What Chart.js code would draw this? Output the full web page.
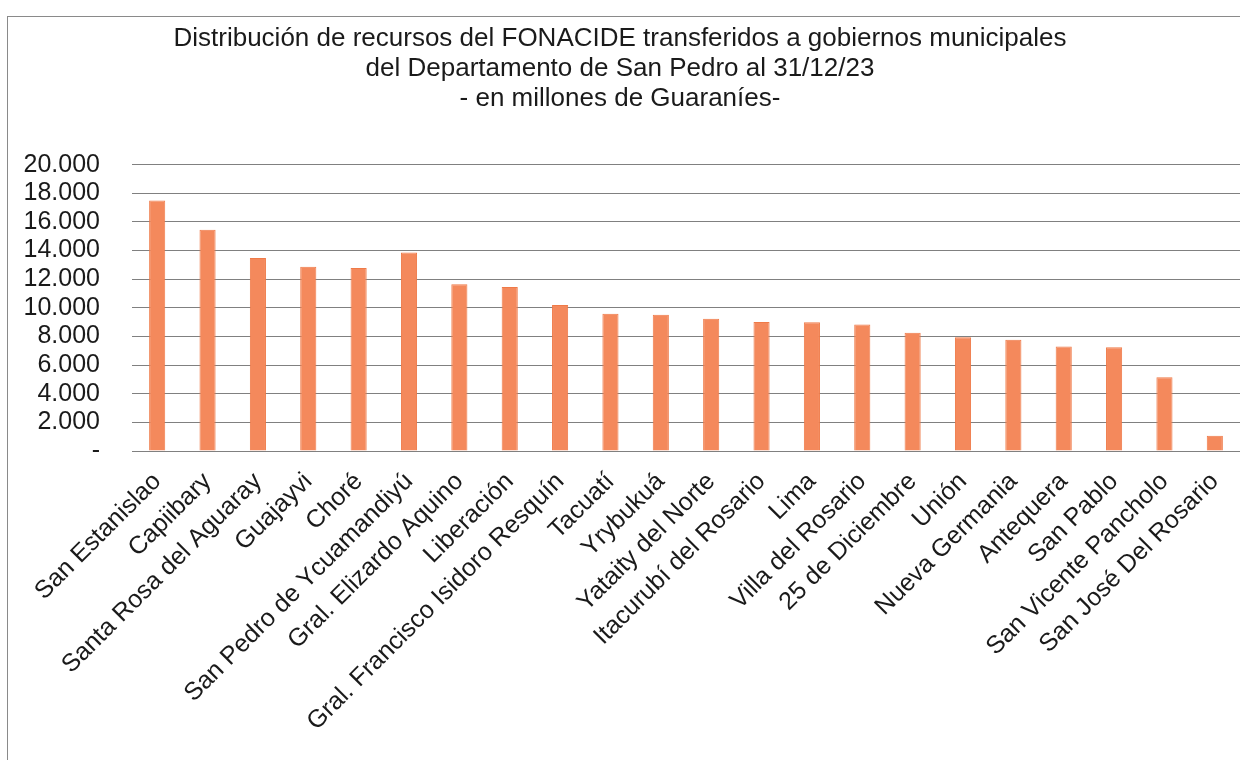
<!DOCTYPE html>
<html>
<head>
<meta charset="utf-8">
<script src="https://cdn.jsdelivr.net/npm/chart.js@4"></script>
<style>
  html, body { margin: 0; padding: 0; background: #fff; }
  #wrap { position: relative; width: 1240px; height: 760px; overflow: hidden; }
  #frame { position: absolute; left: 7px; top: 16px; width: 1300px; height: 800px; border: 1px solid #8a8a8a; }
  #c { position: absolute; left: 0; top: 0; }
</style>
</head>
<body>
<div id="wrap">
  <div id="frame"></div>
  <canvas id="c" width="1240" height="760"></canvas>
</div>
<script>
const titleLines = [
  'Distribución de recursos del FONACIDE transferidos a gobiernos municipales',
  'del Departamento de San Pedro al 31/12/23',
  '- en millones de Guaraníes-'
];
const categories = [
  'San Estanislao', 'Capiibary', 'Santa Rosa del Aguaray', 'Guajayvi', 'Choré',
  'San Pedro de Ycuamandiyú', 'Gral. Elizardo Aquino', 'Liberación',
  'Gral. Francisco Isidoro Resquín', 'Tacuatí', 'Yrybukuá', 'Yataity del Norte',
  'Itacurubí del Rosario', 'Lima', 'Villa del Rosario', '25 de Diciembre', 'Unión',
  'Nueva Germania', 'Antequera', 'San Pablo', 'San Vicente Pancholo', 'San José Del Rosario'
];
const values = [
  17500, 15450, 13480, 12870, 12790,
  13860, 11650, 11450,
  10200, 9580, 9510, 9240,
  9010, 8990, 8840, 8260, 7950,
  7780, 7300, 7250, 5150, 1060
];
const yTicks = [0, 2000, 4000, 6000, 8000, 10000, 12000, 14000, 16000, 18000, 20000];

function fmt(v) {
  if (v === 0) return '-';
  return String(v).replace(/\B(?=(\d{3})+(?!\d))/g, '.');
}

const FONT = '"Liberation Sans", Arial, sans-serif';

new Chart(document.getElementById('c'), {
  type: 'bar',
  data: {
    labels: categories,
    datasets: [{
      data: values,
      backgroundColor: '#F4895C',
      borderColor: '#EF7A48',
      borderWidth: 1,
      barPercentage: 0.32,
      categoryPercentage: 1.0
    }]
  },
  options: {
    responsive: false,
    animation: false,
    devicePixelRatio: 1,
    layout: { padding: { left: 0, right: 0, top: 0, bottom: 0 } },
    plugins: {
      legend: { display: false },
      tooltip: { enabled: false },
      title: {
        display: true,
        text: titleLines,
        color: '#1a1a1a',
        font: { family: FONT, size: 26, weight: 'normal', lineHeight: 1.15 },
        padding: { top: 24, bottom: 51 }
      }
    },
    scales: {
      x: {
        grid: { display: false, drawTicks: false },
        border: { display: true, color: '#808080', width: 1 },
        ticks: {
          color: '#1a1a1a',
          font: { family: FONT, size: 25 },
          minRotation: 45,
          maxRotation: 45,
          autoSkip: false,
          padding: 16
        },
        afterFit: s => { s.height = 309; s.paddingLeft = 0; s.paddingRight = 0; }
      },
      y: {
        min: 0,
        max: 20000,
        afterBuildTicks: s => { s.ticks = yTicks.map(v => ({ value: v })); },
        grid: { color: '#808080', lineWidth: 1, drawTicks: false },
        border: { display: false },
        ticks: {
          color: '#1a1a1a',
          font: { family: FONT, size: 25 },
          padding: 32,
          autoSkip: false,
          callback: v => fmt(v)
        },
        afterFit: s => { s.width = 132; }
      }
    }
  }
});
</script>
</body>
</html>
